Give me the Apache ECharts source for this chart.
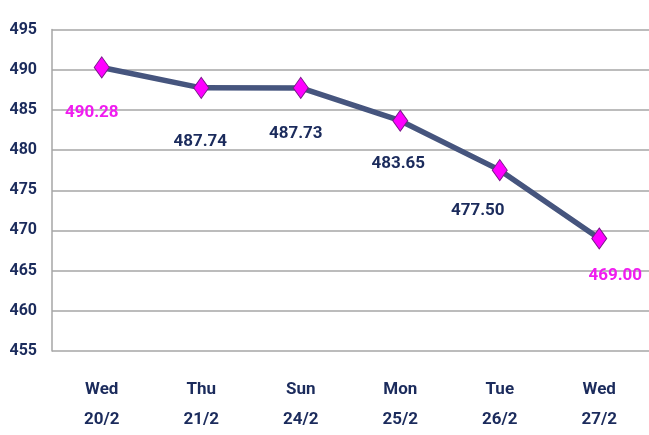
<!DOCTYPE html>
<html><head><meta charset="utf-8">
<script src="https://cdn.jsdelivr.net/npm/echarts@6/dist/echarts.min.js"></script>
<style>html,body{margin:0;padding:0;background:#fff}#c{width:649px;height:435px}</style>
</head><body><div id="c"></div>
<script>
var categories = ['Wed\n20/2', 'Thu\n21/2', 'Sun\n24/2', 'Mon\n25/2', 'Tue\n26/2', 'Wed\n27/2'];
var prices = [490.28, 487.74, 487.73, 483.65, 477.50, 469.00];
var yTicks = [455, 460, 465, 470, 475, 480, 485, 490, 495];
var highlight = [true, false, false, false, false, true];
var labelOffsets = [[-10, 45], [-1, 54], [-5, 46], [-2, 43], [-22, 41], [16, 37]];

var font = 'Roboto, "Noto Sans", sans-serif';
var navy = '#1b2b5c';
var chart = echarts.init(document.getElementById('c'), null, {renderer: 'canvas'});
chart.setOption({
  animation: false,
  grid: {left: 52, top: 29.5, width: 602, bottom: 73},
  xAxis: {
    type: 'category', data: categories, boundaryGap: true,
    axisLine: {show: false}, axisTick: {show: false},
    axisLabel: {color: navy, fontFamily: font, fontWeight: 'bold', fontSize: 17, lineHeight: 30, margin: 24}
  },
  yAxis: {
    type: 'value', min: yTicks[0], max: yTicks[yTicks.length - 1], interval: 5,
    axisLine: {show: true, lineStyle: {color: '#a6a6a6', width: 1.5}},
    axisTick: {show: false},
    splitLine: {lineStyle: {color: '#a6a6a6', width: 1.5}},
    axisLabel: {color: navy, fontFamily: font, fontWeight: 'bold', fontSize: 16, margin: 15}
  },
  series: [{
    type: 'line',
    data: prices.map(function (v, i) {
      return {
        value: v,
        label: {
          show: true, position: 'inside', offset: labelOffsets[i],
          formatter: v.toFixed(2),
          color: highlight[i] ? '#f01cf0' : navy
        }
      };
    }),
    lineStyle: {color: '#46557e', width: 5.5},
    symbol: 'diamond', symbolSize: [15, 21],
    itemStyle: {color: '#ff00ff', borderColor: '#7a1a8a', borderWidth: 1},
    label: {fontFamily: font, fontWeight: 'bold', fontSize: 17}
  }]
});
</script></body></html>
